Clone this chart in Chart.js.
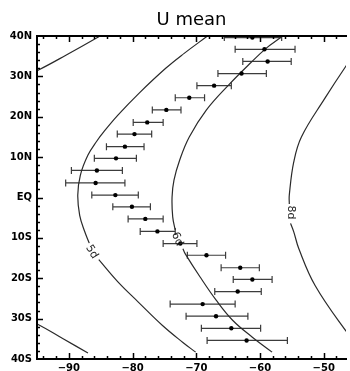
<!DOCTYPE html>
<html lang="en">
<head>
<meta charset="UTF-8">
<title>U mean</title>
<script src="https://cdn.jsdelivr.net/npm/chart.js"></script>
<style>
  html, body { margin: 0; padding: 0; background: #fff; }
  #wrap { width: 350px; height: 371px; }
</style>
</head>
<body>
<div id="wrap"><canvas id="chart" width="350" height="371"></canvas></div>
<script>
// observed points: latitude, mean U and the error range
const lats  = [39.6, 36.7, 33.7, 30.7, 27.7, 24.7, 21.7, 18.6, 15.7, 12.6, 9.7, 6.7, 3.6, 0.6,
               -2.3, -5.3, -8.4, -11.4, -14.3, -17.4, -20.3, -23.3, -26.4, -29.4, -32.4, -35.4];
const uMean = [-61.2, -59.3, -58.8, -62.9, -67.2, -71.1, -74.7, -77.7, -79.7, -81.2, -82.6, -85.6, -85.8, -82.7,
               -80.1, -78.0, -76.1, -72.5, -68.4, -63.1, -61.2, -63.5, -69.0, -66.9, -64.5, -62.1];
const uLow  = [-65.6, -63.9, -62.7, -66.6, -69.9, -73.3, -76.9, -79.9, -82.4, -84.1, -86.0, -89.6, -90.5, -86.4,
               -83.1, -80.7, -78.8, -75.2, -71.4, -66.1, -64.2, -67.1, -74.1, -71.6, -69.2, -68.3];
const uHigh = [-56.6, -54.5, -55.1, -59.0, -64.5, -68.7, -72.4, -75.2, -77.0, -78.2, -79.4, -81.6, -81.2, -79.1,
               -77.2, -75.2, -73.3, -69.9, -65.4, -60.1, -58.1, -59.8, -63.9, -61.9, -59.9, -55.7];

// period curves (null leaves room for the label)
const c4TopU   = [-95.6, -94.75, -90.4, -85.45, -85.0];
const c4TopLat = [31.2, 31.6, 35.3, 39.7, 40.2];
const c4BotU   = [-95.6, -94.75, -90.9, -87.0];
const c4BotLat = [-31.2, -31.5, -35.0, -38.5];
const c5U   = [-67.7, -68.4, -71.9, -74.8, -79.0, -82.3, -84.5, -85.6, -87.0, -88.2, -88.6, -88.3, -87.5, -86.8, null,
               -85.3, -82.3, -79.1, -75.3, -72.1, -70.1];
const c5Lat = [40.6, 39.8, 35.7, 32.0, 25.8, 20.4, 16.3, 14.0, 10.5, 5.5, 0.6, -4.4, -8.5, -11.3, null,
               -15.4, -20.9, -25.9, -31.7, -35.9, -38.3];
const c6U   = [-56.1, -56.6, -59.0, -61.5, -64.9, -68.4, -71.1, -72.6, -73.5, -73.8, -73.7, -73.3, null,
               -72.1, -71.75, -69.4, -66.85, -64.3, -61.2, -58.1];
const c6Lat = [40.5, 39.8, 37.0, 33.3, 27.9, 21.7, 15.0, 9.3, 4.3, 0.1, -4.8, -8.1, null,
               -12.7, -13.9, -19.7, -25.5, -30.4, -34.6, -38.3];
const c8U   = [-45.0, -46.4, -49.8, -53.5, -54.7, -55.4, -55.4, null, -55.2, -54.7, -53.9, -51.35, -46.4, -45.0];
const c8Lat = [35.8, 32.8, 24.6, 15.0, 8.8, 0.6, -1.6, null, -6.4, -8.5, -12.7, -21.8, -33.3, -35.8];

const curveLabels = ['5d', '6d', '8d'];
const labelU   = [-86.4, -73.0, -55.2];
const labelLat = [-13.5, -10.3, -3.7];
const labelAngle = [58, 67, 90];

const xTicks = [-90, -80, -70, -60, -50];
const xTickLabels = ['\u221290', '\u221280', '\u221270', '\u221260', '\u221250'];
const yTicks = [-40, -30, -20, -10, 0, 10, 20, 30, 40];
const yTickLabels = ['40S', '30S', '20S', '10S', 'EQ', '10N', '20N', '30N', '40N'];

const FONT = "'DejaVu Sans', sans-serif";

function curve(us, ls) {
    return us.map((u, i) => ({ x: u, y: ls[i] }));
}

function curveSet(us, ls) {
    return {
        data: curve(us, ls),
        showLine: true,
        pointRadius: 0,
        borderColor: '#2a2a2a',
        borderWidth: 1.2,
        tension: 0.4,
        spanGaps: false
    };
}

const decorPlugin = {
    id: 'decor',
    beforeDatasetsDraw(chart) {
        const { ctx, chartArea: a, scales: { x, y } } = chart;
        ctx.save();
        ctx.beginPath();
        ctx.rect(a.left, a.top, a.right - a.left, a.bottom - a.top);
        ctx.clip();
        ctx.strokeStyle = '#3c3c3c';
        ctx.lineWidth = 1.2;
        lats.forEach((l, i) => {
            const py = y.getPixelForValue(l);
            const x1 = x.getPixelForValue(uLow[i]);
            const x2 = x.getPixelForValue(uHigh[i]);
            ctx.beginPath();
            ctx.moveTo(x1, py); ctx.lineTo(x2, py);
            ctx.moveTo(x1, py - 3.5); ctx.lineTo(x1, py + 3.5);
            ctx.moveTo(x2, py - 3.5); ctx.lineTo(x2, py + 3.5);
            ctx.stroke();
        });
        ctx.restore();
    },
    afterDatasetsDraw(chart) {
        const { ctx, chartArea: a, scales: { x, y } } = chart;
        ctx.save();
        // curve labels
        ctx.fillStyle = '#222';
        ctx.font = '11px ' + FONT;
        ctx.textAlign = 'center';
        ctx.textBaseline = 'middle';
        curveLabels.forEach((t, i) => {
            ctx.save();
            ctx.translate(x.getPixelForValue(labelU[i]), y.getPixelForValue(labelLat[i]));
            ctx.rotate(labelAngle[i] * Math.PI / 180);
            ctx.fillText(t, 0, 0);
            ctx.restore();
        });

        // frame
        ctx.strokeStyle = '#000';
        ctx.lineWidth = 2;
        ctx.beginPath();
        ctx.moveTo(a.right + 1, a.top);
        ctx.lineTo(a.left, a.top);
        ctx.lineTo(a.left, a.bottom);
        ctx.lineTo(a.right + 1, a.bottom);
        ctx.stroke();

        // inward tick marks, minor every 2
        ctx.lineWidth = 1.5;
        ctx.beginPath();
        for (let v = -94; v <= -48; v += 2) {
            const len = v % 10 === 0 ? 6 : 3;
            const px = Math.round(x.getPixelForValue(v)) + 0.5;
            ctx.moveTo(px, a.bottom); ctx.lineTo(px, a.bottom - len);
            ctx.moveTo(px, a.top); ctx.lineTo(px, a.top + len);
        }
        for (let v = -38; v <= 38; v += 2) {
            const len = v % 10 === 0 ? 6 : 3;
            const py = Math.round(y.getPixelForValue(v)) + 0.5;
            ctx.moveTo(a.left, py); ctx.lineTo(a.left + len, py);
        }
        ctx.stroke();
        ctx.restore();
    }
};

new Chart(document.getElementById('chart'), {
    type: 'scatter',
    data: {
        datasets: [
            {
                data: curve(uMean, lats),
                pointRadius: 2.2,
                pointBackgroundColor: '#000',
                pointBorderWidth: 0,
                showLine: false
            },
            curveSet(c4TopU, c4TopLat),
            curveSet(c4BotU, c4BotLat),
            curveSet(c5U, c5Lat),
            curveSet(c6U, c6Lat),
            curveSet(c8U, c8Lat)
        ]
    },
    options: {
        responsive: false,
        animation: false,
        devicePixelRatio: 1,
        layout: { padding: 0 },
        plugins: {
            legend: { display: false },
            tooltip: { enabled: false },
            title: {
                display: true,
                text: 'U mean',
                color: '#000',
                fullSize: false,
                font: { family: FONT, size: 18, weight: 'normal', lineHeight: 1.2 },
                padding: { top: 9.8, bottom: 4.6 }
            }
        },
        scales: {
            x: {
                type: 'linear',
                position: 'bottom',
                min: -95,
                max: -46.5,
                afterBuildTicks(s) { s.ticks = xTicks.map(v => ({ value: v })); },
                afterFit(s) { s.height = 12; },
                grid: { display: false, drawTicks: false },
                border: { display: false },
                ticks: {
                    padding: 3,
                    color: '#000',
                    font: { family: FONT, size: 10, weight: 'bold' },
                    maxRotation: 0,
                    callback: v => xTickLabels[xTicks.indexOf(v)]
                }
            },
            y: {
                type: 'linear',
                min: -40,
                max: 40,
                afterBuildTicks(s) { s.ticks = yTicks.map(v => ({ value: v })); },
                afterFit(s) { s.width = 37; },
                grid: { display: false, drawTicks: false },
                border: { display: false },
                ticks: {
                    padding: 5,
                    color: '#000',
                    font: { family: FONT, size: 10, weight: 'bold' },
                    callback: v => yTickLabels[yTicks.indexOf(v)]
                }
            }
        }
    },
    plugins: [decorPlugin]
});
</script>
</body>
</html>
